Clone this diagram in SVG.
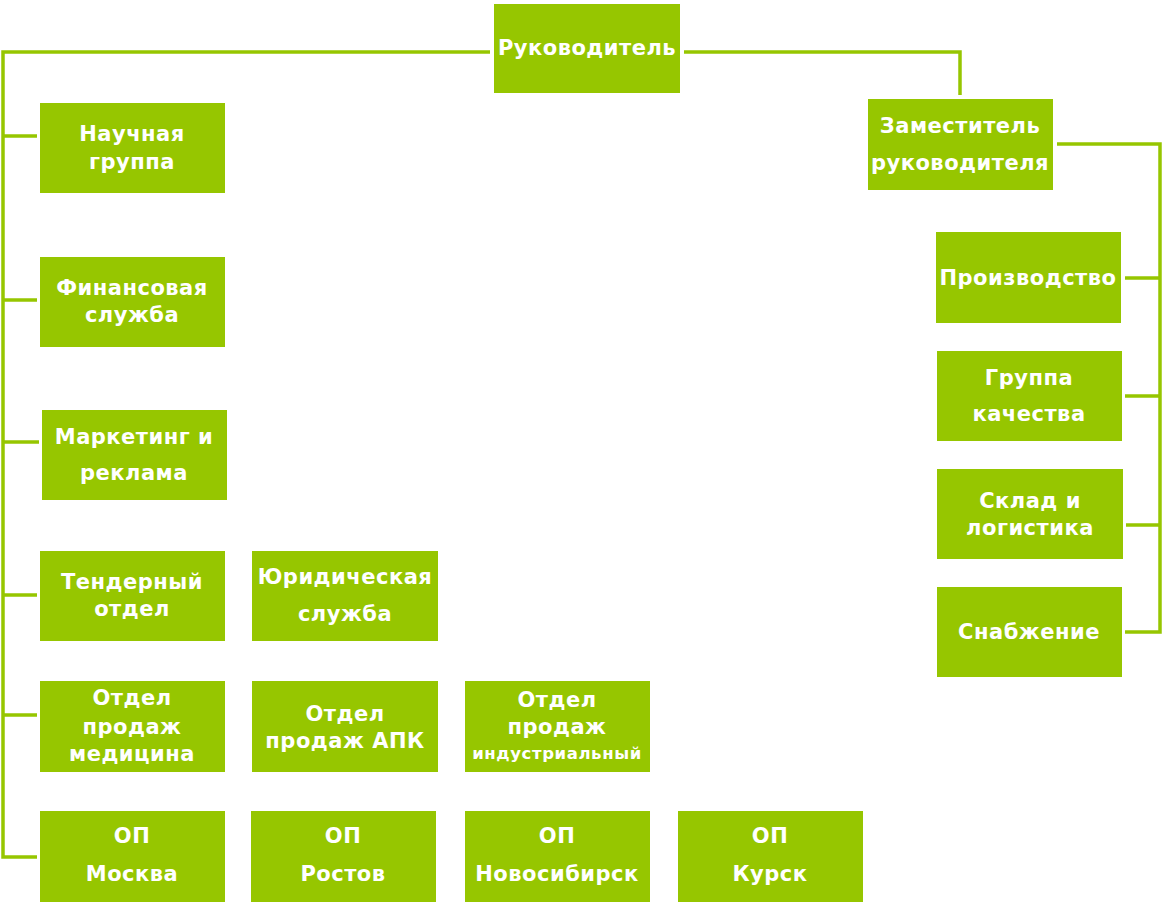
<svg xmlns="http://www.w3.org/2000/svg" width="1163" height="906" viewBox="0 0 1163 906">
<style>
.box{fill:#96c600}
.t{font-family:"DejaVu Sans","Noto Sans",sans-serif;font-weight:bold;font-size:21px;letter-spacing:0.5px;fill:#fff;text-anchor:middle;dominant-baseline:central}
.s{font-size:16.5px;letter-spacing:0.6px}
.ln{stroke:#96c600;stroke-width:3.5;fill:none}
</style>
<rect width="1163" height="906" fill="#fff"/>
<g id="connectors">
<polyline class="ln" points="490,52 3,52 3,857 37,857"/>
<line class="ln" x1="3" y1="136" x2="37" y2="136"/>
<line class="ln" x1="3" y1="300" x2="37" y2="300"/>
<line class="ln" x1="3" y1="442" x2="39" y2="442"/>
<line class="ln" x1="3" y1="595" x2="37" y2="595"/>
<line class="ln" x1="3" y1="715" x2="37" y2="715"/>
<polyline class="ln" points="684,52 960,52 960,95"/>
<polyline class="ln" points="1057,144 1160,144 1160,632 1125,632"/>
<line class="ln" x1="1125" y1="278" x2="1160" y2="278"/>
<line class="ln" x1="1125" y1="396" x2="1160" y2="396"/>
<line class="ln" x1="1126" y1="525" x2="1160" y2="525"/>
</g>
<g id="n-head"><rect class="box" x="494" y="4" width="186" height="89"/><text class="t" x="587" y="48">Руководитель</text></g>
<g id="n-deputy"><rect class="box" x="868" y="99" width="185" height="91"/><text class="t" x="960" y="126">Заместитель</text><text class="t" x="960" y="163">руководителя</text></g>
<g id="n-science"><rect class="box" x="40" y="103" width="185" height="90"/><text class="t" x="132" y="134">Научная</text><text class="t" x="132" y="162">группа</text></g>
<g id="n-finance"><rect class="box" x="40" y="257" width="185" height="90"/><text class="t" x="132" y="288">Финансовая</text><text class="t" x="132" y="315">служба</text></g>
<g id="n-marketing"><rect class="box" x="42" y="410" width="185" height="90"/><text class="t" x="134" y="437">Маркетинг и</text><text class="t" x="134" y="473">реклама</text></g>
<g id="n-tender"><rect class="box" x="40" y="551" width="185" height="90"/><text class="t" x="132" y="582">Тендерный</text><text class="t" x="132" y="609">отдел</text></g>
<g id="n-legal"><rect class="box" x="252" y="551" width="186" height="90"/><text class="t" x="345" y="577">Юридическая</text><text class="t" x="345" y="614">служба</text></g>
<g id="n-sales-med"><rect class="box" x="40" y="681" width="185" height="91"/><text class="t" x="132" y="698">Отдел</text><text class="t" x="132" y="727">продаж</text><text class="t" x="132" y="754">медицина</text></g>
<g id="n-sales-apk"><rect class="box" x="252" y="681" width="186" height="91"/><text class="t" x="345" y="714">Отдел</text><text class="t" x="345" y="741">продаж АПК</text></g>
<g id="n-sales-ind"><rect class="box" x="465" y="681" width="185" height="91"/><text class="t" x="557" y="700">Отдел</text><text class="t" x="557" y="727">продаж</text><text class="t s" x="557" y="753">индустриальный</text></g>
<g id="n-op-msk"><rect class="box" x="40" y="811" width="185" height="91"/><text class="t" x="132" y="836">ОП</text><text class="t" x="132" y="874">Москва</text></g>
<g id="n-op-rnd"><rect class="box" x="251" y="811" width="185" height="91"/><text class="t" x="343" y="836">ОП</text><text class="t" x="343" y="874">Ростов</text></g>
<g id="n-op-nsk"><rect class="box" x="465" y="811" width="185" height="91"/><text class="t" x="557" y="836">ОП</text><text class="t" x="557" y="874">Новосибирск</text></g>
<g id="n-op-krs"><rect class="box" x="678" y="811" width="185" height="91"/><text class="t" x="770" y="836">ОП</text><text class="t" x="770" y="874">Курск</text></g>
<g id="n-production"><rect class="box" x="936" y="232" width="185" height="91"/><text class="t" x="1028" y="278">Производство</text></g>
<g id="n-quality"><rect class="box" x="937" y="351" width="185" height="90"/><text class="t" x="1029" y="378">Группа</text><text class="t" x="1029" y="414">качества</text></g>
<g id="n-warehouse"><rect class="box" x="937" y="469" width="186" height="90"/><text class="t" x="1030" y="501">Склад и</text><text class="t" x="1030" y="528">логистика</text></g>
<g id="n-supply"><rect class="box" x="937" y="587" width="185" height="90"/><text class="t" x="1029" y="632">Снабжение</text></g>
</svg>
